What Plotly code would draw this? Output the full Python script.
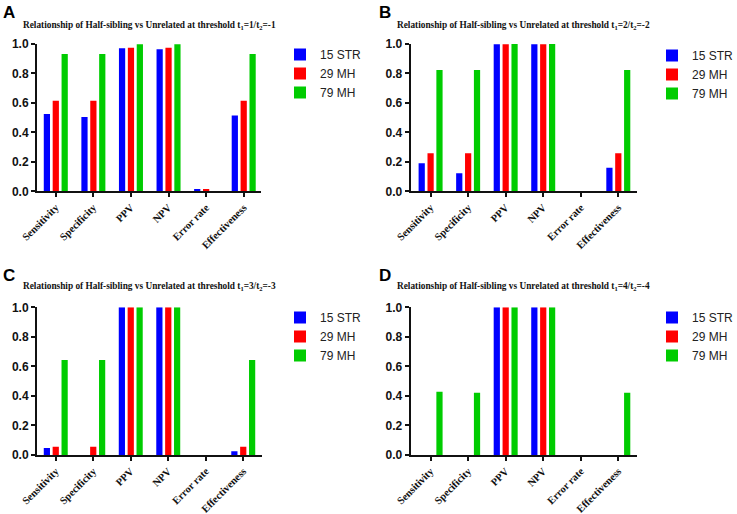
import plotly.graph_objects as go

categories = ["Sensitivity", "Specificity", "PPV", "NPV", "Error rate", "Effectiveness"]
series_names = ["15 STR", "29 MH", "79 MH"]
colors = ["#0000FF", "#FF0000", "#00CC00"]

# Panel A: threshold t1=1/t2=-1
a_str15 = [0.525, 0.505, 0.971, 0.964, 0.016, 0.514]
a_mh29 = [0.615, 0.615, 0.975, 0.975, 0.016, 0.615]
a_mh79 = [0.932, 0.932, 0.998, 0.998, 0.0, 0.932]

# Panel B: threshold t1=2/t2=-2
b_str15 = [0.19, 0.122, 0.999, 0.999, 0.0, 0.16]
b_mh29 = [0.258, 0.258, 0.999, 0.999, 0.0, 0.258]
b_mh79 = [0.824, 0.824, 1.0, 1.0, 0.0, 0.824]

# Panel C: threshold t1=3/t2=-3
c_str15 = [0.047, 0.0, 1.0, 1.0, 0.0, 0.025]
c_mh29 = [0.056, 0.056, 1.0, 1.0, 0.0, 0.056]
c_mh79 = [0.643, 0.643, 1.0, 1.0, 0.0, 0.643]

# Panel D: threshold t1=4/t2=-4
d_str15 = [0.0, 0.0, 1.0, 1.0, 0.0, 0.0]
d_mh29 = [0.0, 0.0, 1.0, 1.0, 0.0, 0.0]
d_mh79 = [0.429, 0.422, 1.0, 1.0, 0.0, 0.422]

panel_letters = ["A", "B", "C", "D"]
thresholds = ["1", "2", "3", "4"]
y_ticks = [0.0, 0.2, 0.4, 0.6, 0.8, 1.0]

panels = [
    [a_str15, a_mh29, a_mh79],
    [b_str15, b_mh29, b_mh79],
    [c_str15, c_mh29, c_mh79],
    [d_str15, d_mh29, d_mh79],
]

W, H = 737, 514
xdoms = [[37 / W, 261 / W], [410.7 / W, 636.7 / W], [37 / W, 262 / W], [410.7 / W, 636.7 / W]]
ydoms = [[1 - 191.3 / H, 1 - 44 / H], [1 - 191.3 / H, 1 - 44 / H],
         [1 - 455 / H, 1 - 307.3 / H], [1 - 455 / H, 1 - 307.3 / H]]
xranges = [[-0.5, 5.46], [-0.53, 5.49], [-0.5, 5.5], [-0.53, 5.49]]

fig = go.Figure()
sans = "Arial, Liberation Sans, sans-serif"
serif = "Times New Roman, Liberation Serif, serif"

layout = {}
annotations = []
for i, vals in enumerate(panels):
    n = "" if i == 0 else str(i + 1)
    leg = "legend" if i == 0 else "legend" + str(i + 1)
    for s, (name, col) in enumerate(zip(series_names, colors)):
        fig.add_trace(go.Bar(
            x=categories, y=vals[s], name=name, marker_color=col,
            marker_line_width=0, xaxis="x" + n, yaxis="y" + n,
            offsetgroup=str(s), legend=leg, hoverinfo="skip",
        ))
    layout["xaxis" + n] = dict(
        domain=xdoms[i], anchor="y" + n, range=xranges[i],
        showline=True, linecolor="#111", linewidth=2,
        ticks="outside", ticklen=4, tickwidth=2, tickcolor="#111",
        tickangle=-45, showgrid=False, zeroline=False,
        tickfont=dict(family=serif, size=10.5, color="#111", weight="bold"),
        categoryorder="array", categoryarray=categories, fixedrange=True,
    )
    layout["yaxis" + n] = dict(
        domain=ydoms[i], anchor="x" + n, range=[0, 1.0],
        tickvals=y_ticks, tickformat=".1f",
        showline=True, linecolor="#111", linewidth=2,
        ticks="outside", ticklen=4, tickwidth=2, tickcolor="#111",
        showgrid=False, zeroline=False,
        tickfont=dict(family=sans, size=12, color="#111", weight="bold"),
        fixedrange=True,
    )
    lx = [280, 652, 280, 652][i] / W
    ly = 1 - [40, 41, 303, 303][i] / H
    layout[leg] = dict(
        x=lx, y=ly, xanchor="left", yanchor="top",
        font=dict(family=sans, size=12, color="#222"),
        bgcolor="rgba(0,0,0,0)", tracegroupgap=0, itemclick=False,
    )
    xc = (xdoms[i][0] + xdoms[i][1]) / 2
    ytitle = 1 - ([25, 25, 286, 286][i]) / H
    annotations.append(dict(
        text=("Relationship of Half-sibling vs Unrelated at threshold t<sub>1</sub>="
              + thresholds[i] + "/t<sub>2</sub>=-" + thresholds[i]),
        x=xc, y=ytitle, xref="paper", yref="paper", showarrow=False,
        xanchor="center", yanchor="middle",
        font=dict(family=serif, size=9.3, color="#111", weight="bold"),
    ))
    annotations.append(dict(
        text=panel_letters[i],
        x=[1, 377, 1, 377][i] / W, y=1 - [1, 1, 264, 264][i] / H,
        xref="paper", yref="paper", showarrow=False,
        xanchor="left", yanchor="top",
        font=dict(family=sans, size=17, color="#000", weight="bold"),
    ))

fig.update_layout(
    width=W, height=H,
    margin=dict(l=0, r=0, t=0, b=0, autoexpand=False),
    paper_bgcolor="white", plot_bgcolor="white",
    barmode="group", bargap=0.29, bargroupgap=0.3,
    annotations=annotations, showlegend=True,
    **layout,
)

fig.write_html("out.html", config={"displayModeBar": False},
               post_script="document.body.style.margin='0';")
